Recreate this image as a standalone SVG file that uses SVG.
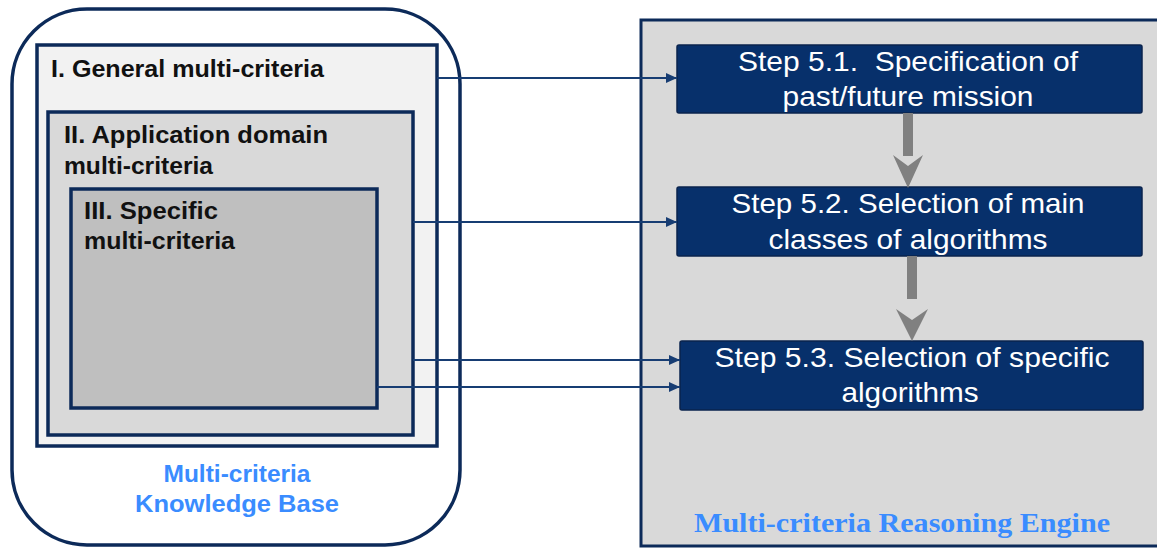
<svg xmlns="http://www.w3.org/2000/svg" width="1157" height="548" viewBox="0 0 1157 548">
<style>
.nv{stroke:#0c2a59;}
.lbl{font-family:"Liberation Sans",Arial,sans-serif;font-weight:bold;font-size:23px;fill:#111111;}
.kb{font-family:"Liberation Sans",Arial,sans-serif;font-weight:bold;font-size:24px;fill:#3a8cff;text-anchor:middle;}
.step{fill:#07306b;stroke:#0a234d;stroke-width:1.5;}
.st{font-family:"Liberation Sans",Arial,sans-serif;font-size:28px;fill:#ffffff;text-anchor:middle;}
.re{font-family:"Liberation Serif","Times New Roman",serif;font-weight:bold;font-size:27px;fill:#3a8cff;text-anchor:middle;}
.conn{stroke:#173d73;stroke-width:2;fill:none;marker-end:url(#ah);}
.gs{fill:#808080;}
</style>
<defs>
<marker id="ah" markerUnits="userSpaceOnUse" markerWidth="12" markerHeight="10" refX="11" refY="5" orient="auto">
<path d="M0,0 L11,5 L0,10 Z" fill="#173d73"/>
</marker>
</defs>
<rect width="1157" height="548" fill="#ffffff"/>
<g id="knowledge-base">
<rect x="12" y="9" width="448" height="536" rx="75" ry="75" fill="#ffffff" class="nv" stroke-width="3.5"/>
<text class="kb" x="237" y="482" textLength="147" lengthAdjust="spacingAndGlyphs">Multi-criteria</text>
<text class="kb" x="237" y="512" textLength="204" lengthAdjust="spacingAndGlyphs">Knowledge Base</text>
</g>
<g id="general">
<rect x="37" y="45" width="400" height="401" fill="#f2f2f2" class="nv" stroke-width="3.5"/>
<text class="lbl" x="51" y="77" textLength="273" lengthAdjust="spacingAndGlyphs">I. General multi-criteria</text>
</g>
<g id="application">
<rect x="48" y="112" width="365" height="323" fill="#d9d9d9" class="nv" stroke-width="3.5"/>
<text class="lbl" x="64" y="143" textLength="264" lengthAdjust="spacingAndGlyphs">II. Application domain</text>
<text class="lbl" x="64" y="174" textLength="149" lengthAdjust="spacingAndGlyphs">multi-criteria</text>
</g>
<g id="specific">
<rect x="71" y="189" width="306" height="219" fill="#bfbfbf" class="nv" stroke-width="3.5"/>
<text class="lbl" x="84" y="219" textLength="134" lengthAdjust="spacingAndGlyphs">III. Specific</text>
<text class="lbl" x="84" y="249" textLength="151" lengthAdjust="spacingAndGlyphs">multi-criteria</text>
</g>
<g id="reasoning-engine">
<rect x="641" y="20" width="530" height="526" fill="#d9d9d9" class="nv" stroke-width="3"/>
<text class="re" x="902" y="532" textLength="416" lengthAdjust="spacingAndGlyphs">Multi-criteria Reasoning Engine</text>
</g>
<g id="step51">
<rect class="step" x="677" y="45" width="465" height="68" rx="2"/>
<text class="st" x="908" y="71" textLength="340" lengthAdjust="spacingAndGlyphs" xml:space="preserve">Step 5.1.  Specification of</text>
<text class="st" x="908" y="106" textLength="251" lengthAdjust="spacingAndGlyphs">past/future mission</text>
</g>
<g id="step52">
<rect class="step" x="677" y="187" width="465" height="69" rx="2"/>
<text class="st" x="908" y="213" textLength="353" lengthAdjust="spacingAndGlyphs">Step 5.2. Selection of main</text>
<text class="st" x="908" y="249" textLength="279" lengthAdjust="spacingAndGlyphs">classes of algorithms</text>
</g>
<g id="step53">
<rect class="step" x="680" y="341" width="463" height="69" rx="2"/>
<text class="st" x="912" y="367" textLength="395" lengthAdjust="spacingAndGlyphs">Step 5.3. Selection of specific</text>
<text class="st" x="910" y="402" textLength="137" lengthAdjust="spacingAndGlyphs">algorithms</text>
</g>
<g id="connectors">
<line class="conn" x1="437" y1="78" x2="677" y2="78"/>
<line class="conn" x1="413" y1="222" x2="677" y2="222"/>
<line class="conn" x1="413" y1="360" x2="680" y2="360"/>
<line class="conn" x1="377" y1="387" x2="680" y2="387"/>
<rect class="gs" x="903" y="113" width="10" height="43"/>
<path class="gs" d="M893,155 L908,166 L923,155 L908,188 Z"/>
<rect class="gs" x="907" y="256" width="10" height="43"/>
<path class="gs" d="M896,309 L912,320 L928,309 L912,341 Z"/>
</g>
</svg>
